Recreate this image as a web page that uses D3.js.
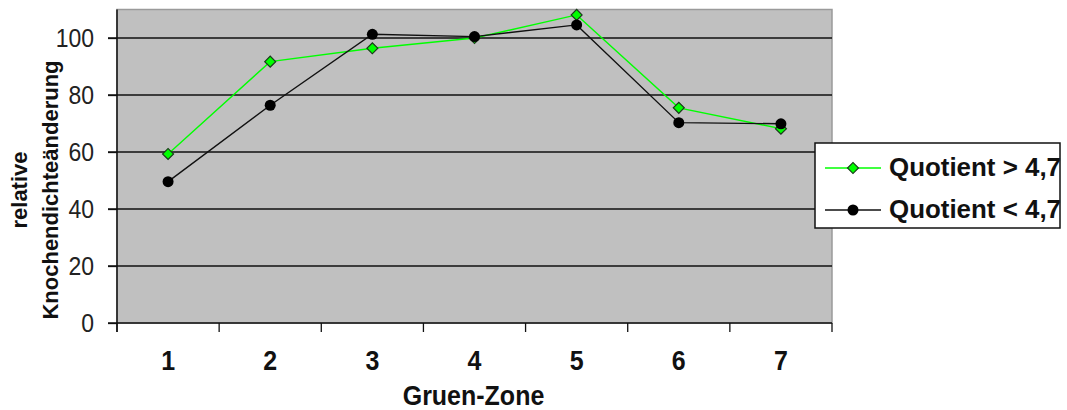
<!DOCTYPE html>
<html>
<head>
<meta charset="utf-8">
<script src="https://cdn.jsdelivr.net/npm/d3@7/dist/d3.min.js"></script>
<style>
  html, body { margin: 0; padding: 0; background: #fff; }
  svg { display: block; }
  text { font-family: "Liberation Sans", Arial, sans-serif; fill: #111; }
</style>
</head>
<body>
<svg id="chart" width="1067" height="410"></svg>
<script>
// Zones along the x axis
const zones = ["1", "2", "3", "4", "5", "6", "7"];
// Relative bone density change per zone
const quotientHigh = [59.3, 91.7, 96.4, 100.0, 108.1, 75.5, 68.2];   // Quotient > 4,7
const quotientLow  = [49.6, 76.4, 101.3, 100.5, 104.6, 70.3, 69.9];  // Quotient < 4,7
const yTicks = [0, 20, 40, 60, 80, 100];
const seriesNames = ["Quotient > 4,7", "Quotient < 4,7"];

const svg = d3.select("#chart");
const plot = { left: 117, right: 832, top: 9.5, bottom: 323 };

const x = d3.scaleBand().domain(zones).range([plot.left, plot.right]).paddingInner(0).paddingOuter(0);
const y = d3.scaleLinear().domain([0, 110]).range([plot.bottom, plot.top]);
const cx = d => x(d) + x.bandwidth() / 2;

// Plot background with a grey frame
svg.append("rect")
  .attr("x", plot.left).attr("y", plot.top)
  .attr("width", plot.right - plot.left).attr("height", plot.bottom - plot.top)
  .attr("fill", "#c0c0c0").attr("stroke", "#9a9a9a").attr("stroke-width", 1.5);

// Horizontal gridlines, continuing into the outward ticks
svg.append("g").selectAll("line").data(yTicks.filter(v => v > 0)).join("line")
  .attr("x1", plot.left - 9).attr("x2", plot.right)
  .attr("y1", d => y(d)).attr("y2", d => y(d))
  .attr("stroke", "#111").attr("stroke-width", 1.3);

// Y axis with ticks and labels
const yAxis = d3.axisLeft(y).tickValues(yTicks).tickSize(9).tickFormat(d3.format("d"));
const gy = svg.append("g").attr("transform", `translate(${plot.left},0)`).call(yAxis);
gy.select(".domain").remove();
gy.selectAll(".tick line").attr("stroke", "#111").attr("stroke-width", 1.3);
gy.selectAll(".tick text").remove();
gy.selectAll(".tick").append("text")
  .attr("transform", "translate(-23,8) scale(1,1.1)")
  .attr("text-anchor", "end")
  .style("font-size", "23px").style("fill", "#222")
  .text(d => d);
svg.append("line")
  .attr("x1", plot.left).attr("x2", plot.left)
  .attr("y1", plot.top).attr("y2", plot.bottom + 9)
  .attr("stroke", "#111").attr("stroke-width", 1.5);

// X axis: baseline, ticks between zones, bold zone labels
svg.append("line")
  .attr("x1", plot.left - 9).attr("x2", plot.right)
  .attr("y1", plot.bottom).attr("y2", plot.bottom)
  .attr("stroke", "#111").attr("stroke-width", 1.5);
const boundaries = zones.map(z => x(z)).concat([x(zones[zones.length - 1]) + x.bandwidth()]);
svg.append("g").selectAll("line").data(boundaries).join("line")
  .attr("x1", d => d).attr("x2", d => d)
  .attr("y1", plot.bottom).attr("y2", plot.bottom + 9)
  .attr("stroke", "#111").attr("stroke-width", 1.3);
svg.append("g").selectAll("text").data(zones).join("text")
  .attr("transform", d => `translate(${cx(d)},370) scale(1,1.1)`)
  .attr("text-anchor", "middle")
  .style("font-size", "25px").style("font-weight", "bold")
  .text(d => d);

// Axis titles
svg.append("text")
  .attr("transform", `translate(${(plot.left + plot.right) / 2 - 1},405) scale(1,1.1)`)
  .attr("text-anchor", "middle")
  .style("font-size", "25px").style("font-weight", "bold")
  .text("Gruen-Zone");
const yTitle = svg.append("text")
  .attr("transform", "translate(27,190) rotate(-90)")
  .attr("text-anchor", "middle")
  .style("font-size", "22px").style("font-weight", "bold");
yTitle.append("tspan").attr("x", 0).attr("dy", 0).text("relative");
yTitle.append("tspan").attr("x", 0).attr("dy", 31).text("Knochendichteänderung");

// Series lines and markers
const line = d3.line().x((d, i) => cx(zones[i])).y(d => y(d));
const diamondShape = d3.symbol().type(d3.symbolSquare).size(60);

svg.append("path").datum(quotientHigh)
  .attr("d", line).attr("fill", "none").attr("stroke", "#00ff00").attr("stroke-width", 1.4);
svg.append("path").datum(quotientLow)
  .attr("d", line).attr("fill", "none").attr("stroke", "#111").attr("stroke-width", 1.4);

svg.append("g").selectAll("path").data(quotientHigh).join("path")
  .attr("transform", (d, i) => `translate(${cx(zones[i])},${y(d)}) rotate(45)`)
  .attr("d", diamondShape)
  .attr("fill", "#00ff00").attr("stroke", "#1a3a1a").attr("stroke-width", 1.2);
svg.append("g").selectAll("circle").data(quotientLow).join("circle")
  .attr("cx", (d, i) => cx(zones[i])).attr("cy", d => y(d)).attr("r", 5.5)
  .attr("fill", "#000");

// Legend
const legend = svg.append("g");
legend.append("rect")
  .attr("x", 815).attr("y", 143).attr("width", 245).attr("height", 85)
  .attr("fill", "#fff").attr("stroke", "#111").attr("stroke-width", 1.5);
const rows = [
  { name: seriesNames[0], color: "#00ff00", marker: "diamond", y: 168 },
  { name: seriesNames[1], color: "#111", marker: "circle", y: 210 }
];
rows.forEach(r => {
  legend.append("line").attr("x1", 825).attr("x2", 881).attr("y1", r.y).attr("y2", r.y)
    .attr("stroke", r.color).attr("stroke-width", 1.5);
  if (r.marker === "diamond") {
    legend.append("path").attr("transform", `translate(853,${r.y}) rotate(45)`)
      .attr("d", diamondShape)
      .attr("fill", "#00ff00").attr("stroke", "#1a3a1a").attr("stroke-width", 1.2);
  } else {
    legend.append("circle").attr("cx", 853).attr("cy", r.y).attr("r", 5.5).attr("fill", "#000");
  }
  legend.append("text")
    .attr("transform", `translate(889,${r.y + 8}) scale(1.08,1.05)`)
    .style("font-size", "24px").style("font-weight", "bold")
    .text(r.name);
});
</script>
</body>
</html>
